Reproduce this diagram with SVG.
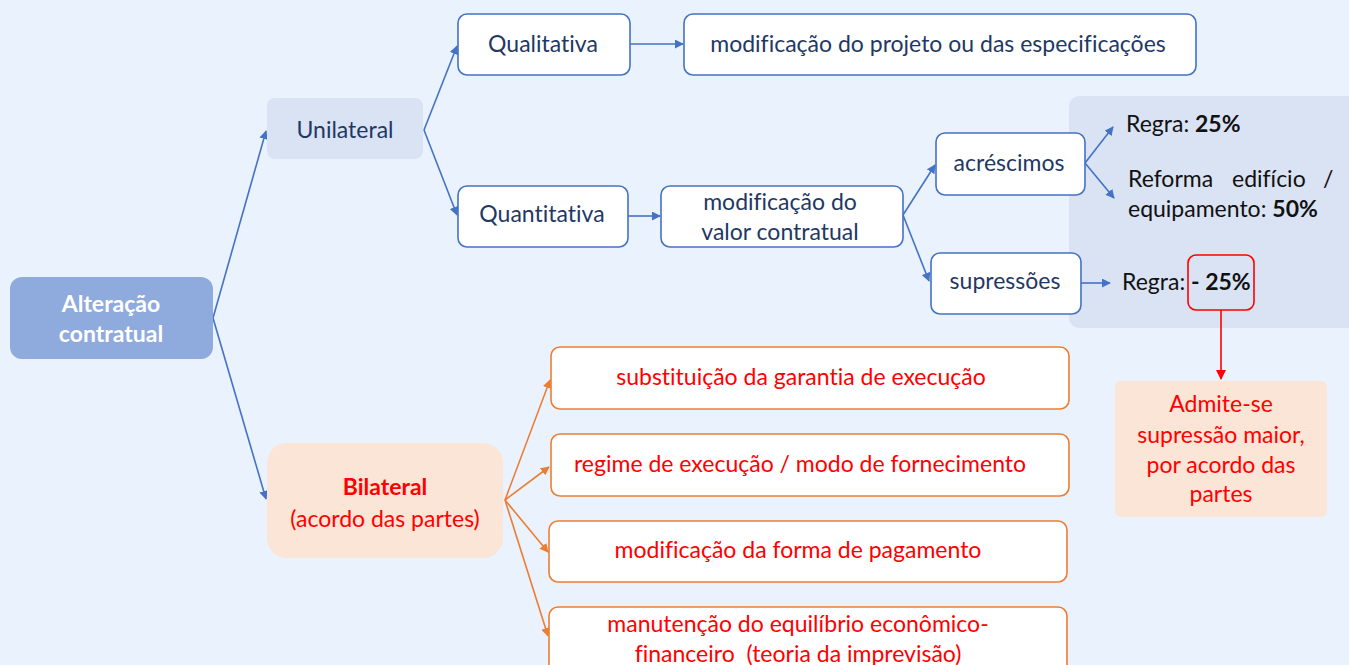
<svg xmlns="http://www.w3.org/2000/svg" width="1349" height="665" viewBox="0 0 1349 665">
<defs>
<marker id="ab" viewBox="0 0 10 10" refX="9" refY="5" markerWidth="9" markerHeight="9" markerUnits="userSpaceOnUse" orient="auto"><path d="M0,0 L10,5 L0,10 z" fill="#4472C4"/></marker>
<marker id="ao" viewBox="0 0 10 10" refX="9" refY="5" markerWidth="9" markerHeight="9" markerUnits="userSpaceOnUse" orient="auto"><path d="M0,0 L10,5 L0,10 z" fill="#ED7D31"/></marker>
<marker id="ar" viewBox="0 0 10 10" refX="9" refY="5" markerWidth="10" markerHeight="10" markerUnits="userSpaceOnUse" orient="auto"><path d="M0,0 L10,5 L0,10 z" fill="#FF0000"/></marker>
</defs>
<style>
text{font-family:Lato,"Open Sans","Liberation Sans",sans-serif;font-size:23px;font-variant-ligatures:none;}
.c{text-anchor:middle}
.navy{fill:#1F3864}
.red{fill:#FF0000}
.blk{fill:#111}
.wb{fill:#FFFFFF;stroke:#4472C4;stroke-width:1.6}
.ob{fill:#FFFFFF;stroke:#ED7D31;stroke-width:1.6}
.bl{stroke:#4472C4;stroke-width:1.6;fill:none;marker-end:url(#ab)}
.ol{stroke:#ED7D31;stroke-width:1.6;fill:none;marker-end:url(#ao)}
.b{font-weight:bold}
</style>
<rect width="1349" height="665" fill="#EAF2FD"/>

<g id="panel"><rect x="1069" y="96" width="290" height="232" rx="10" fill="#DAE3F3"/></g>

<g id="connectors">
<path class="bl" d="M213,318 L266,131"/>
<path class="bl" d="M213,318 L266,499"/>
<path class="bl" d="M424,130 L457,46"/>
<path class="bl" d="M424,130 L457,215"/>
<path class="bl" d="M630,44 L683,44"/>
<path class="bl" d="M628,216 L660,216"/>
<path class="bl" d="M903,215 L935,165"/>
<path class="bl" d="M903,215 L929,281"/>
<path class="bl" d="M1085,163 L1113,127"/>
<path class="bl" d="M1085,163 L1114,198"/>
<path class="bl" d="M1081,283 L1110,283"/>
<path class="ol" d="M505,500 L550,380"/>
<path class="ol" d="M505,500 L549,467"/>
<path class="ol" d="M505,500 L548,552"/>
<path class="ol" d="M505,500 L548,636"/>
<path d="M1221,310 L1221,379" stroke="#FF0000" stroke-width="1.6" fill="none" marker-end="url(#ar)"/>
</g>

<g id="alteracao">
<rect x="10" y="277" width="203" height="82" rx="12" fill="#8FAADC"/>
<text class="c b" x="111" y="312" fill="#FFFFFF">Alteração</text>
<text class="c b" x="111" y="342" fill="#FFFFFF">contratual</text>
</g>

<g id="unilateral">
<rect x="267" y="98" width="156" height="61" rx="8" fill="#DAE3F3"/>
<text class="c navy" x="345" y="138">Unilateral</text>
</g>

<g id="qualitativa">
<rect class="wb" x="458" y="14" width="172" height="61" rx="9"/>
<text class="c navy" x="543" y="52">Qualitativa</text>
</g>

<g id="mod-projeto">
<rect class="wb" x="684" y="14" width="512" height="61" rx="9"/>
<text class="c navy" x="938" y="52">modificação do projeto ou das especificações</text>
</g>

<g id="quantitativa">
<rect class="wb" x="458" y="186" width="170" height="61" rx="9"/>
<text class="c navy" x="542" y="222">Quantitativa</text>
</g>

<g id="mod-valor">
<rect class="wb" x="661" y="186" width="242" height="61" rx="9"/>
<text class="c navy" x="780" y="210">modificação do</text>
<text class="c navy" x="780" y="240">valor contratual</text>
</g>

<g id="acrescimos">
<rect class="wb" x="936" y="133" width="149" height="62" rx="9"/>
<text class="c navy" x="1009" y="171">acréscimos</text>
</g>

<g id="supressoes">
<rect class="wb" x="931" y="253" width="150" height="61" rx="9"/>
<text class="c navy" x="1005" y="289">supressões</text>
</g>

<g id="regra25">
<text class="blk" x="1126" y="132">Regra: <tspan class="b">25%</tspan></text>
</g>

<g id="reforma">
<text class="blk" x="1128" y="187">Reforma</text>
<text class="blk" x="1232" y="187">edifício</text>
<text class="blk" x="1323" y="187">/</text>
<text class="blk" x="1128" y="217">equipamento: <tspan class="b">50%</tspan></text>
</g>

<g id="regra-menos25">
<rect x="1188" y="255" width="66" height="55" rx="8" fill="none" stroke="#FF0000" stroke-width="1.6"/>
<text class="blk" x="1122" y="290">Regra:</text>
<text class="blk b" x="1191" y="290">- 25%</text>
</g>

<g id="admite">
<rect x="1115" y="381" width="212" height="136" rx="6" fill="#FBE5D6"/>
<text class="c red" x="1221" y="412">Admite-se</text>
<text class="c red" x="1221" y="443">supressão maior,</text>
<text class="c red" x="1221" y="473">por acordo das</text>
<text class="c red" x="1221" y="502">partes</text>
</g>

<g id="bilateral">
<rect x="267" y="443" width="236" height="115" rx="20" fill="#FBE5D6"/>
<text class="c red b" x="385" y="495">Bilateral</text>
<text class="c red" x="385" y="527">(acordo das partes)</text>
</g>

<g id="garantia">
<rect class="ob" x="551" y="347" width="518" height="62" rx="9"/>
<text class="c red" x="801" y="385">substituição da garantia de execução</text>
</g>

<g id="regime">
<rect class="ob" x="551" y="434" width="518" height="62" rx="9"/>
<text class="c red" x="800" y="472">regime de execução / modo de fornecimento</text>
</g>

<g id="pagamento">
<rect class="ob" x="549" y="521" width="518" height="61" rx="9"/>
<text class="c red" x="798" y="558">modificação da forma de pagamento</text>
</g>

<g id="equilibrio">
<rect class="ob" x="549" y="607" width="518" height="70" rx="9"/>
<text class="c red" x="798" y="632">manutenção do equilíbrio econômico-</text>
<text class="c red" x="798" y="662" xml:space="preserve">financeiro  (teoria da imprevisão)</text>
</g>
</svg>
